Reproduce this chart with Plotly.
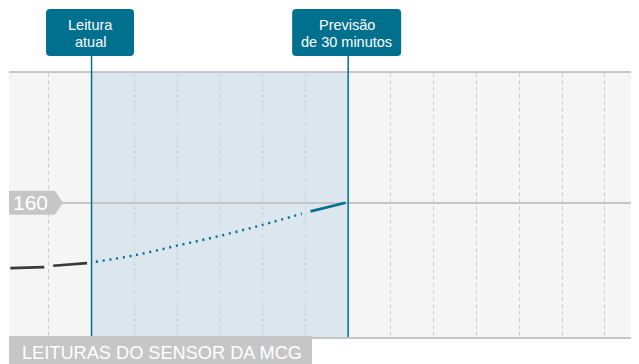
import plotly.graph_objects as go

# Data (minutes relative to current reading, glucose mg/dL)
past_t = [-9.5, -5.5, -4.5, -0.5]
past_v = [140.5, 140.8, 141.2, 142.0]
forecast_dot_t = [0.5, 5, 10, 15, 20, 24.6]
forecast_dot_v = [142.4, 144.3, 147.2, 150.1, 153.4, 156.7]
forecast_solid_t = [25.6, 29.7]
forecast_solid_v = [157.4, 160.0]
ref_level = 160
now_t = 0
forecast_t = 30
label_now = ["Leitura", "atual"]
label_forecast = ["Previsão", "de 30 minutos"]
bottom_label = "LEITURAS DO SENSOR DA MCG"

TEAL = "#00708f"
GRAY = "#c6c6c6"
FONT = "Liberation Sans, Arial, sans-serif"

fig = go.Figure()
fig.add_trace(go.Scatter(x=past_t, y=past_v, mode="lines",
                         line=dict(color="#3a3a3a", width=2.6, dash="34px,9px"),
                         hoverinfo="skip", showlegend=False))
fig.add_trace(go.Scatter(x=forecast_dot_t, y=forecast_dot_v, mode="lines",
                         line=dict(color=TEAL, width=2.4, dash="2px,4.8px", shape="spline"),
                         hoverinfo="skip", showlegend=False))
fig.add_trace(go.Scatter(x=forecast_solid_t, y=forecast_solid_v, mode="lines",
                         line=dict(color=TEAL, width=2.6),
                         hoverinfo="skip", showlegend=False))

# shaded forecast window
fig.add_shape(type="rect", xref="x", yref="paper", x0=now_t, x1=forecast_t, y0=0, y1=1,
              fillcolor="#dce6ef", line_width=0, layer="below")

def rounded_box(cx, left, right, bottom, top, r=4):
    p = (f"M {left+r},{bottom} L {right-r},{bottom} Q {right},{bottom} {right},{bottom+r} "
         f"L {right},{top-r} Q {right},{top} {right-r},{top} L {left+r},{top} "
         f"Q {left},{top} {left},{top-r} L {left},{bottom+r} Q {left},{bottom} {left+r},{bottom} Z")
    fig.add_shape(type="path", xref="x", yref="paper", xsizemode="pixel", ysizemode="pixel",
                  xanchor=cx, yanchor=1, path=p, fillcolor=TEAL, line_width=0, layer="above")

for t, lines, w in [(now_t, label_now, 88), (forecast_t, label_forecast, 109)]:
    fig.add_shape(type="line", xref="x", yref="paper", x0=t, x1=t, y0=0, y1=1 + 17 / 264,
                  line=dict(color=TEAL, width=1.5), layer="above")
    rounded_box(t, -w / 2 - 1.5, w / 2 - 1.5, 17, 64)
    for i, ln in enumerate(lines):
        fig.add_annotation(x=t, xref="x", y=1, yref="paper", yanchor="middle",
                           yshift=48 - i * 16.7, xshift=-1.5, text=ln, showarrow=False,
                           font=dict(family=FONT, size=14.5, color="white"))

# 160 tag
fig.add_shape(type="path", xref="paper", yref="y", xsizemode="pixel", ysizemode="pixel",
              xanchor=0, yanchor=ref_level,
              path="M 0,-12 L 46,-12 L 54,0 L 46,12 L 0,12 Z",
              fillcolor=GRAY, line_width=0, layer="above")
fig.add_annotation(x=0, xref="paper", y=ref_level, yref="y", xanchor="center", xshift=21,
                   text=str(ref_level), showarrow=False,
                   font=dict(family=FONT, size=21, color="white"))

# bottom label
fig.add_shape(type="rect", xref="paper", yref="paper", ysizemode="pixel", yanchor=0,
              x0=0, x1=303 / 630, y0=1, y1=-30, fillcolor=GRAY, line_width=0, layer="above")
fig.add_annotation(x=0, xref="paper", y=0, yref="paper", xanchor="left", yanchor="middle",
                   xshift=11, yshift=-15.5, text=bottom_label, showarrow=False,
                   font=dict(family=FONT, size=18.2, color="white"))

fig.update_xaxes(range=[-9.65, 64], tick0=0, dtick=5, showticklabels=False, ticks="",
                 showgrid=True, gridcolor="#cfcfcf", gridwidth=1, griddash="4px,3px",
                 zeroline=False, showline=True, mirror=True, linecolor=GRAY, linewidth=2)
fig.update_yaxes(range=[120, 198.6], tickvals=[ref_level], showticklabels=False, ticks="",
                 showgrid=True, gridcolor=GRAY, gridwidth=2, zeroline=False, showline=False)
fig.update_layout(width=631, height=356, margin=dict(l=1, r=0, t=65, b=27),
                  plot_bgcolor="#f5f5f5", paper_bgcolor="white", showlegend=False)
fig.write_html("out.html")
